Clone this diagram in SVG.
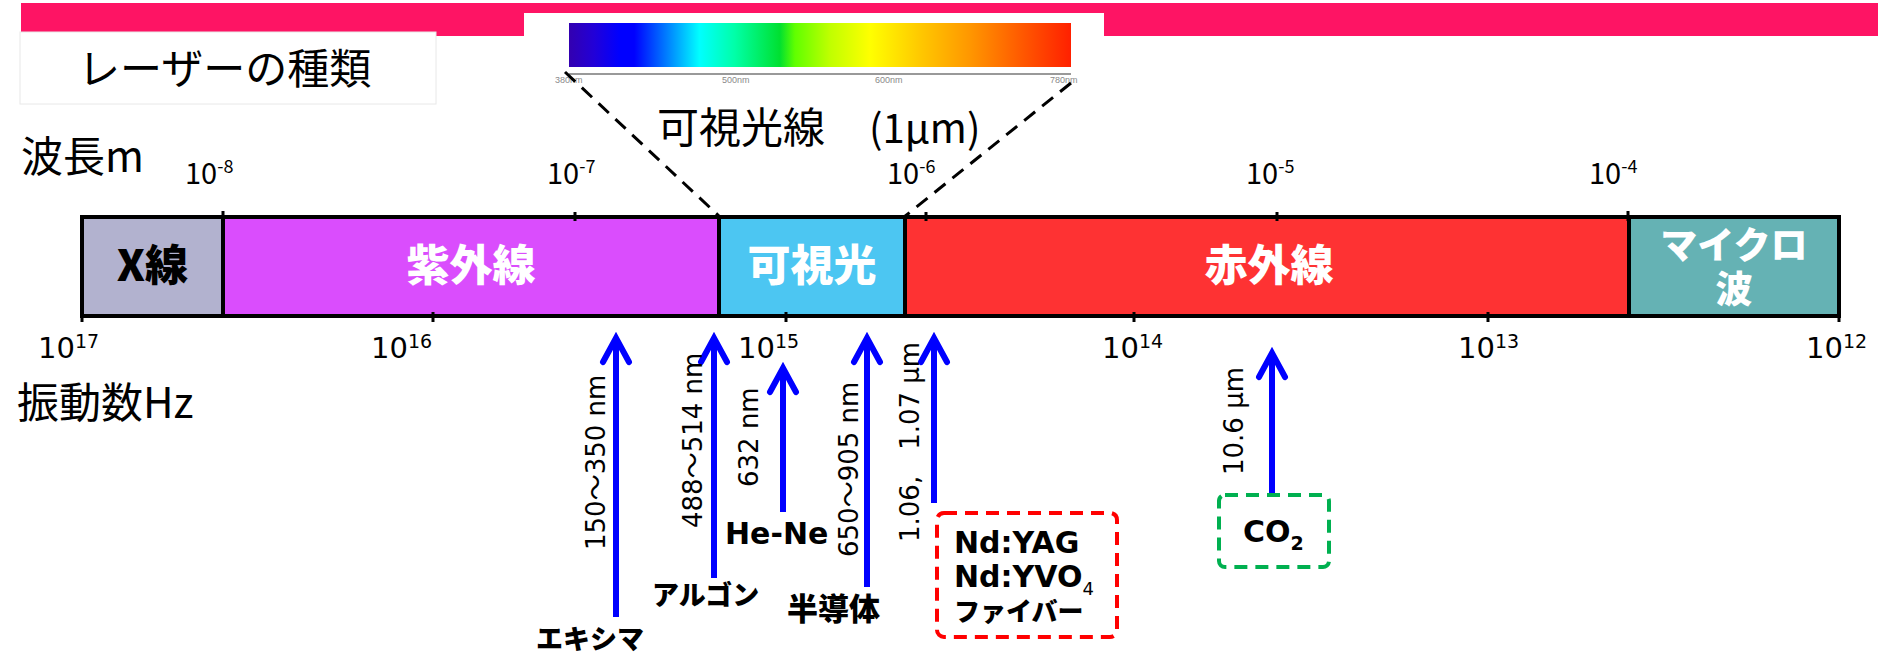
<svg xmlns="http://www.w3.org/2000/svg" width="1881" height="654" viewBox="0 0 1881 654">
  <style>
    .jp { font-family: "Noto Sans CJK JP", sans-serif; fill: #000; }
    .jpb { font-family: "Noto Sans CJK JP", sans-serif; font-weight: 800; }
    .vdb { font-family: "DejaVu Sans", "Noto Sans CJK JP", sans-serif; font-weight: 700; fill: #000; }
    .wl { font-family: "Noto Sans CJK JP", sans-serif; font-size: 29px; fill: #000; }
    .fq { font-family: "DejaVu Sans", sans-serif; font-size: 29px; fill: #000; }
    .seg { stroke: #000; stroke-width: 4; }
    .tick { stroke: #000; stroke-width: 3; }
    .arrow { stroke: #0000ff; stroke-width: 6; fill: none; marker-end: url(#chev); }
    .zoomline { stroke: #000; stroke-width: 3; stroke-dasharray: 14 9; fill: none; }
    .rot { font-family: "DejaVu Sans", "Noto Sans CJK JP", sans-serif; font-size: 26px; fill: #000; }
    .nm { font-family: "Liberation Sans", sans-serif; font-size: 9px; fill: #8a8a8a; }
    .white { fill: #fff; }
  </style>
  <defs>
    <linearGradient id="spec" x1="0" y1="0" x2="1" y2="0">
      <stop offset="0" stop-color="#3300b0"/>
      <stop offset="0.05" stop-color="#2200d8"/>
      <stop offset="0.1" stop-color="#0000ff"/>
      <stop offset="0.13" stop-color="#0000ff"/>
      <stop offset="0.2" stop-color="#0088ff"/>
      <stop offset="0.26" stop-color="#00ffff"/>
      <stop offset="0.33" stop-color="#00ffa8"/>
      <stop offset="0.42" stop-color="#00e030"/>
      <stop offset="0.45" stop-color="#60ff00"/>
      <stop offset="0.52" stop-color="#c0ff00"/>
      <stop offset="0.6" stop-color="#ffff00"/>
      <stop offset="0.7" stop-color="#ffc800"/>
      <stop offset="0.8" stop-color="#ff9600"/>
      <stop offset="0.9" stop-color="#ff5a00"/>
      <stop offset="1" stop-color="#ff2000"/>
    </linearGradient>
    <marker id="chev" viewBox="-30 -20 40 40" markerWidth="40" markerHeight="40" refX="0" refY="0" orient="auto" markerUnits="userSpaceOnUse" overflow="visible">
      <path d="M -24,-13 L 0,0 L -24,13" fill="none" stroke="#0000ff" stroke-width="6" stroke-linecap="round" stroke-linejoin="miter"/>
    </marker>
  </defs>

  <rect width="1881" height="654" fill="#fff"/>

  <!-- header band -->
  <g id="header">
    <rect x="21" y="3" width="1857" height="33" fill="#fe1464"/>
    <rect x="20" y="32" width="416" height="72" fill="#fff" stroke="#e8e8e8" stroke-width="1"/>
    <text class="jp" x="78" y="84" font-size="42">レーザーの種類</text>
  </g>

  <!-- visible spectrum inset -->
  <g id="spectrum-inset">
    <rect x="524" y="13" width="580" height="84" fill="#fff"/>
    <rect x="569" y="23" width="502" height="44" fill="url(#spec)"/>
    <line x1="569" y1="74" x2="1071" y2="74" stroke="#777" stroke-width="1.5"/>
    <text class="nm" x="555" y="83">380nm</text>
    <text class="nm" x="722" y="83">500nm</text>
    <text class="nm" x="875" y="83">600nm</text>
    <text class="nm" x="1050" y="83">780nm</text>
  </g>

  <g id="visible-caption">
    <text class="jp" x="657" y="143" font-size="42">可視光線</text>
    <text class="jp" x="869" y="143" font-size="40">(1μm)</text>
  </g>

  <!-- axis titles -->
  <g id="axis-titles">
    <text class="jp" x="21" y="172" font-size="42">波長m</text>
    <text class="jp" x="17" y="418" font-size="42">振動数Hz</text>
  </g>

  <!-- wavelength labels -->
  <g id="wavelength-labels">
    <text class="wl" x="185" y="184">10<tspan font-size="18" dy="-11">-8</tspan></text>
    <text class="wl" x="547" y="184">10<tspan font-size="18" dy="-11">-7</tspan></text>
    <text class="wl" x="887" y="184">10<tspan font-size="18" dy="-11">-6</tspan></text>
    <text class="wl" x="1246" y="184">10<tspan font-size="18" dy="-11">-5</tspan></text>
    <text class="wl" x="1589" y="184">10<tspan font-size="18" dy="-11">-4</tspan></text>
  </g>

  <!-- frequency labels -->
  <g id="frequency-labels">
    <text class="fq" x="38" y="358">10<tspan font-size="19" dy="-10">17</tspan></text>
    <text class="fq" x="371" y="358">10<tspan font-size="19" dy="-10">16</tspan></text>
    <text class="fq" x="738" y="358">10<tspan font-size="19" dy="-10">15</tspan></text>
    <text class="fq" x="1102" y="358">10<tspan font-size="19" dy="-10">14</tspan></text>
    <text class="fq" x="1458" y="358">10<tspan font-size="19" dy="-10">13</tspan></text>
    <text class="fq" x="1806" y="358">10<tspan font-size="19" dy="-10">12</tspan></text>
  </g>

  <!-- spectrum bar segments -->
  <g id="xray">
    <rect class="seg" x="82" y="217" width="141" height="99" fill="#b2b2cf"/>
    <text class="jpb" x="152.5" y="281" font-size="43" text-anchor="middle" fill="#000">X線</text>
  </g>
  <g id="uv">
    <rect class="seg" x="223" y="217" width="496" height="99" fill="#da4dfd"/>
    <text class="jpb white" x="471" y="281" font-size="43" text-anchor="middle">紫外線</text>
  </g>
  <g id="visible">
    <rect class="seg" x="719" y="217" width="186" height="99" fill="#4cc6f2"/>
    <text class="jpb white" x="812" y="281" font-size="43" text-anchor="middle">可視光</text>
  </g>
  <g id="infrared">
    <rect class="seg" x="905" y="217" width="724" height="99" fill="#fe3233"/>
    <text class="jpb white" x="1269" y="281" font-size="43" text-anchor="middle">赤外線</text>
  </g>
  <g id="microwave">
    <rect class="seg" x="1629" y="217" width="210" height="99" fill="#65b2b4"/>
    <text class="jpb white" x="1734" y="259" font-size="37" text-anchor="middle">マイクロ</text>
    <text class="jpb white" x="1734" y="303" font-size="37" text-anchor="middle">波</text>
  </g>

  <!-- ticks -->
  <g id="ticks">
    <line class="tick" x1="223" y1="211" x2="223" y2="221"/>
    <line class="tick" x1="575" y1="212" x2="575" y2="221"/>
    <line class="tick" x1="926" y1="212" x2="926" y2="221"/>
    <line class="tick" x1="1277" y1="212" x2="1277" y2="221"/>
    <line class="tick" x1="1628" y1="211" x2="1628" y2="221"/>
    <line class="tick" x1="82" y1="312" x2="82" y2="322"/>
    <line class="tick" x1="433" y1="312" x2="433" y2="322"/>
    <line class="tick" x1="786" y1="312" x2="786" y2="322"/>
    <line class="tick" x1="1134" y1="312" x2="1134" y2="322"/>
    <line class="tick" x1="1488" y1="312" x2="1488" y2="322"/>
    <line class="tick" x1="1839" y1="312" x2="1839" y2="322"/>
  </g>

  <!-- connectors -->
  <g id="connectors">
    <line class="zoomline" x1="565" y1="72" x2="720" y2="217"/>
    <line class="zoomline" x1="1071" y1="83" x2="904" y2="217"/>
    <line class="arrow" x1="616" y1="617" x2="616" y2="338"/>
    <line class="arrow" x1="714" y1="578" x2="714" y2="338"/>
    <line class="arrow" x1="783" y1="512" x2="783" y2="368"/>
    <line class="arrow" x1="867" y1="587" x2="867" y2="338"/>
    <line class="arrow" x1="934" y1="503" x2="934" y2="338"/>
    <line class="arrow" x1="1272" y1="495" x2="1272" y2="353"/>
  </g>

  <!-- laser wavelength labels -->
  <g id="excimer">
    <text class="rot" transform="translate(605,550) rotate(-90)">150～350 nm</text>
    <text class="jpb" x="536" y="649" font-size="27" fill="#000">エキシマ</text>
  </g>
  <g id="argon">
    <text class="rot" transform="translate(702,528) rotate(-90)">488～514 nm</text>
    <text class="jpb" x="652" y="605" font-size="27" fill="#000">アルゴン</text>
  </g>
  <g id="hene">
    <text class="rot" transform="translate(758,487) rotate(-90)">632 nm</text>
    <text class="vdb" x="725" y="544" font-size="30">He-Ne</text>
  </g>
  <g id="semiconductor">
    <text class="rot" transform="translate(858,557) rotate(-90)">650～905 nm</text>
    <text class="jpb" x="787" y="620" font-size="31" fill="#000">半導体</text>
  </g>
  <g id="ndyag">
    <text class="rot" transform="translate(919,542) rotate(-90)">1.06,　1.07 μm</text>
    <rect x="937" y="513" width="180" height="124" rx="7" fill="none" stroke="#ff0000" stroke-width="4" stroke-dasharray="13 8"/>
    <text class="vdb" x="954" y="553" font-size="30">Nd:YAG</text>
    <text class="vdb" x="954" y="587" font-size="30">Nd:YVO<tspan font-size="18" font-weight="400" dy="8">4</tspan></text>
    <text class="jpb" x="954" y="621" font-size="26" fill="#000">ファイバー</text>
  </g>
  <g id="co2">
    <text class="rot" transform="translate(1243,475) rotate(-90)">10.6 μm</text>
    <rect x="1219" y="495" width="110" height="72" rx="6" fill="none" stroke="#00b050" stroke-width="4" stroke-dasharray="13 8"/>
    <text class="vdb" x="1243" y="542" font-size="30">CO<tspan font-size="19" dy="8">2</tspan></text>
  </g>
</svg>
